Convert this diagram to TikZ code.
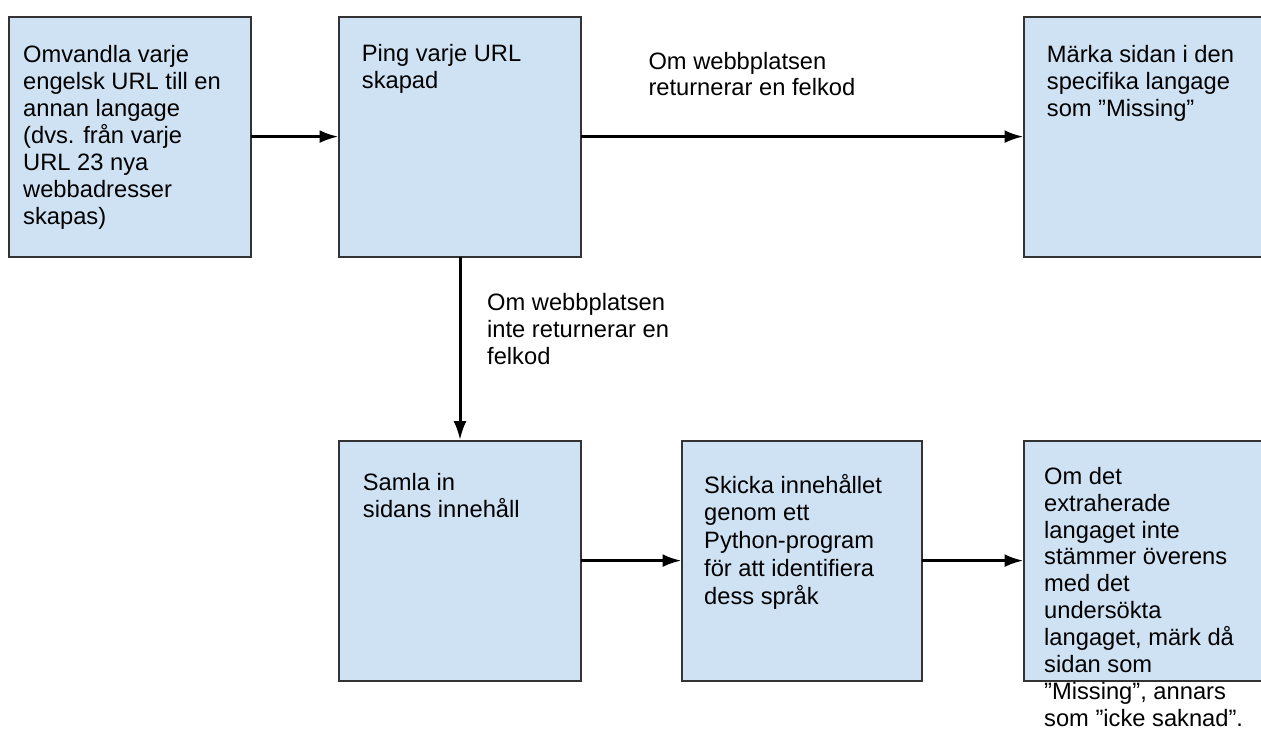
\documentclass[tikz,border=0pt]{standalone}
\usepackage{fontspec}
\setmainfont{Liberation Sans}
\usetikzlibrary{arrows.meta}
\definecolor{boxfill}{HTML}{CFE2F3}
\definecolor{boxline}{HTML}{333333}
\newcommand\firststrut{\rule{0pt}{24pt}}
\begin{document}
\begin{tikzpicture}[x=1pt,y=-1pt,
  flowbox/.style={rectangle, draw=boxline, fill=boxfill, line width=1.8pt,
    minimum width=242pt, minimum height=240pt, inner sep=0pt, outer sep=0pt},
  boxtext/.style={anchor=north west, inner sep=0pt, align=left,
    font=\fontsize{23.7}{27}\selectfont},
  flowarrow/.style={draw=black, line width=3pt,
    -{Latex[length=19pt,width=13pt]}, shorten >=0.5pt}
]
\useasboundingbox (0,0) rectangle (1261,729);
\clip (0,0) rectangle (1261,729);
\fill[white] (0,0) rectangle (1261,729);

% boxes
\node[flowbox] (b1) at (130,136.6) {};
\node[flowbox] (b2) at (460,136.6) {};
\node[flowbox] (b3) at (1145,136.6) {};
\node[flowbox] (b4) at (460,560.6) {};
\node[flowbox, minimum width=240pt] (b5) at (802,560.6) {};
\node[flowbox] (b6) at (1145,560.6) {};

% box texts
\node[boxtext] (t1) at (23,38) {\firststrut Omvandla varje\\engelsk URL till en\\annan langage\\(dvs. från varje\\URL 23 nya\\webbadresser\\skapas)};
\node[boxtext] (t2) at (361.7,37) {\firststrut Ping varje URL\\skapad};
\node[boxtext] (t3) at (1046.7,38) {\firststrut Märka sidan i den\\specifika langage\\som ”Missing”};
\node[boxtext] (t4) at (362.7,466) {\firststrut Samla in\\sidans innehåll};
\node[boxtext, font=\fontsize{23.7}{27.7}\selectfont] (t5) at (704,469) {\firststrut Skicka innehållet\\genom ett\\Python-program\\för att identifiera\\dess språk};
\node[boxtext, font=\fontsize{23.7}{26.9}\selectfont] (t6) at (1044,460) {\firststrut Om det\\extraherade\\langaget inte\\stämmer överens\\med det\\undersökta\\langaget, märk då\\sidan som\\”Missing”, annars\\som ”icke saknad”.};

% edge labels
\node[boxtext, font=\fontsize{23.7}{26}\selectfont] (l1) at (648.3,45) {\firststrut Om webbplatsen\\returnerar en felkod};
\node[boxtext, font=\fontsize{23.7}{27.3}\selectfont] (l2) at (487,286) {\firststrut Om webbplatsen\\inte returnerar en\\felkod};

% connectors
\draw[flowarrow] (b1.east) -- (b2.west);
\draw[flowarrow] (b2.east) -- (b3.west);
\draw[flowarrow] (b2.south) -- (b4.north);
\draw[flowarrow] (b4.east) -- (b5.west);
\draw[flowarrow] (b5.east) -- (b6.west);
\end{tikzpicture}
\end{document}
